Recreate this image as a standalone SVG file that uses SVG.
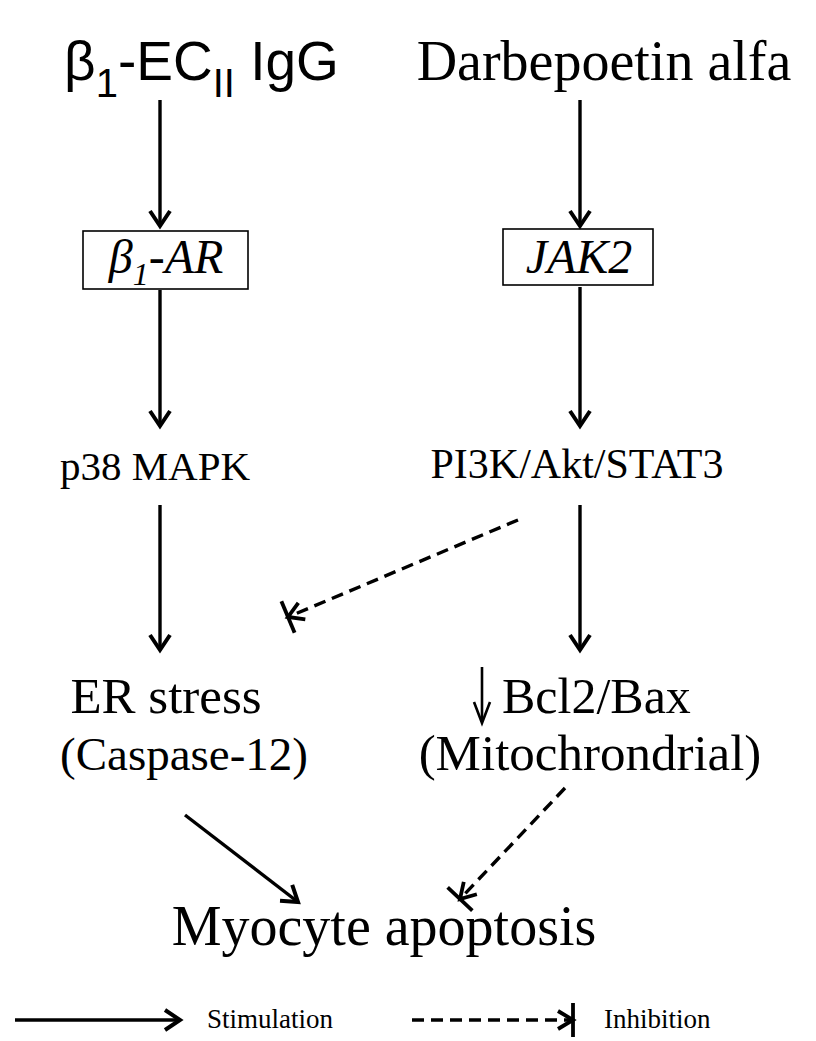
<svg xmlns="http://www.w3.org/2000/svg" width="816" height="1041" viewBox="0 0 816 1041">
<style>
.s{font-family:"Liberation Serif",serif;fill:#000}
.a{font-family:"Liberation Sans",sans-serif;fill:#000}
.ln{stroke:#000;stroke-width:3.4;fill:none}
.dl{stroke:#000;stroke-width:3.4;fill:none;stroke-dasharray:12 7}
.bx{stroke:#000;stroke-width:1.6;fill:#fff}
</style>
<defs>
<marker id="arr" markerUnits="userSpaceOnUse" markerWidth="30" markerHeight="30" refX="15" refY="10" orient="auto" overflow="visible">
<path d="M0,0 L15,10 L0,20" fill="none" stroke="#000" stroke-width="4" stroke-linejoin="miter"/>
</marker>
<marker id="inh" markerUnits="userSpaceOnUse" markerWidth="30" markerHeight="30" refX="15" refY="10" orient="auto" overflow="visible">
<path d="M0,1 L15,10 L0,19" fill="none" stroke="#000" stroke-width="3.8"/>
<path d="M15,-7 L15,27" fill="none" stroke="#000" stroke-width="3.8"/>
</marker>
</defs>
<g id="n-igg"><text class="a" x="64" y="80" font-size="55">β<tspan font-size="40" dy="17">1</tspan><tspan dy="-17">-EC</tspan><tspan font-size="40" dy="17">II</tspan><tspan dy="-17"> IgG</tspan></text></g>
<g id="n-darb"><text class="s" x="604" y="80" font-size="56" text-anchor="middle">Darbepoetin alfa</text></g>
<g id="n-b1ar"><rect class="bx" x="83" y="231" width="165" height="58"/><text class="s" x="166" y="273" font-size="48" font-style="italic" text-anchor="middle">β<tspan font-size="32" dy="12">1</tspan><tspan dy="-12">-AR</tspan></text></g>
<g id="n-jak2"><rect class="bx" x="503" y="229" width="150" height="56"/><text class="s" x="579" y="273" font-size="48" font-style="italic" text-anchor="middle">JAK2</text></g>
<g id="n-p38"><text class="s" x="155" y="480" font-size="41" text-anchor="middle">p38 MAPK</text></g>
<g id="n-pi3k"><text class="s" x="577" y="478" font-size="42" text-anchor="middle">PI3K/Akt/STAT3</text></g>
<g id="n-er"><text class="s" x="166" y="713" font-size="51" text-anchor="middle">ER stress</text><text class="s" x="184" y="770" font-size="47" text-anchor="middle">(Caspase-12)</text></g>
<g id="n-bcl"><path d="M482,667 L482,721" fill="none" stroke="#000" stroke-width="2.6"/><path d="M474,702 L482,723 L490,702" fill="none" stroke="#000" stroke-width="2.6"/><text class="s" x="502" y="713" font-size="50">Bcl2/Bax</text><text class="s" x="590" y="770" font-size="51" text-anchor="middle">(Mitochrondrial)</text></g>
<g id="n-apo"><text class="s" x="384" y="945" font-size="56" text-anchor="middle">Myocyte apoptosis</text></g>
<g id="connectors">
<line class="ln" x1="160" y1="100" x2="160" y2="226" marker-end="url(#arr)"/>
<line class="ln" x1="580" y1="100" x2="580" y2="226" marker-end="url(#arr)"/>
<line class="ln" x1="160" y1="290" x2="160" y2="426" marker-end="url(#arr)"/>
<line class="ln" x1="580" y1="287" x2="580" y2="426" marker-end="url(#arr)"/>
<line class="ln" x1="160" y1="505" x2="160" y2="650" marker-end="url(#arr)"/>
<line class="ln" x1="580" y1="505" x2="580" y2="650" marker-end="url(#arr)"/>
<line class="dl" x1="518" y1="520" x2="288" y2="617" marker-end="url(#inh)"/>
<line class="ln" x1="185" y1="815" x2="298" y2="902" marker-end="url(#arr)"/>
<line class="dl" x1="565" y1="788" x2="460" y2="899" marker-end="url(#inh)"/>
</g>
<g id="legend">
<line class="ln" x1="15" y1="1020" x2="180" y2="1020" marker-end="url(#arr)"/>
<text class="s" x="207" y="1028" font-size="27">Stimulation</text>
<line class="dl" x1="412" y1="1020" x2="573" y2="1020" stroke-dasharray="10 5" marker-end="url(#inh)"/>
<text class="s" x="604" y="1028" font-size="27">Inhibition</text>
</g>
</svg>
